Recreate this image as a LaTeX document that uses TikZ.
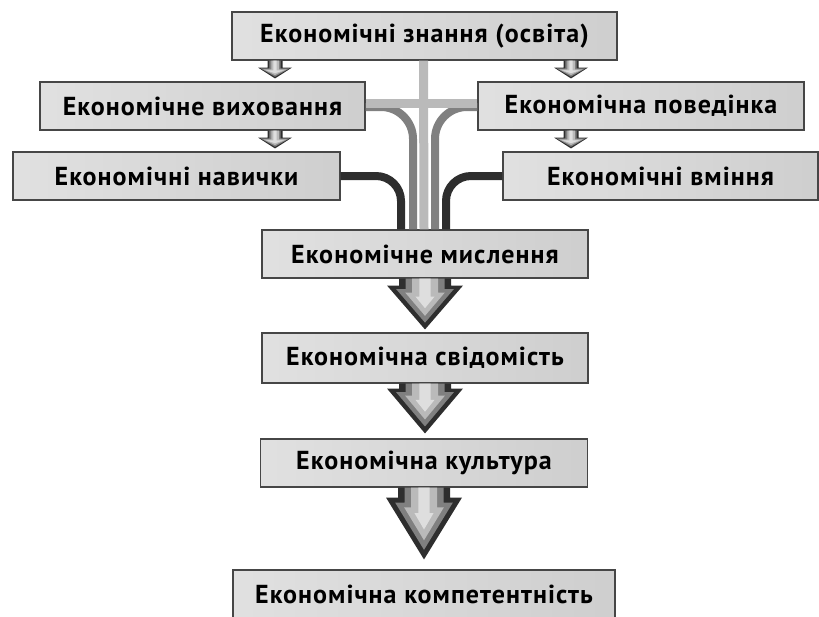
\documentclass[tikz,border=0pt]{standalone}
\usepackage{fontspec}
\setmainfont{PT Sans}[LetterSpace=4]
\usepackage{tikz}
\usetikzlibrary{calc}

\definecolor{darkstripe}{gray}{0.18}
\definecolor{midstripe}{gray}{0.5}
\definecolor{lightstripe}{gray}{0.73}
\definecolor{palestripe}{gray}{0.87}

% striped fat arrow: shaft half width, head half width, shaft length, from, to
\newcommand{\fatarrow}[5]{%
  \foreach \d/\c in {0/darkstripe,0.25/midstripe,0.5/lightstripe,0.78/palestripe}{
    \fill[\c] let \p1=(#4), \p2=(#5) in
      ({\x1-(1-\d)*#1pt},\y1)
      -- ({\x1-(1-\d)*#1pt},{\y1-#3pt-(\y1-#3pt-(\y2))*0.32*\d})
      -- ({\x1-#2pt+1.4*\d*#1pt},{\y1-#3pt-(\y1-#3pt-(\y2))*0.32*\d})
      -- (\x1,{\y2+(\y1-#3pt-(\y2))*0.62*\d})
      -- ({\x1+#2pt-1.4*\d*#1pt},{\y1-#3pt-(\y1-#3pt-(\y2))*0.32*\d})
      -- ({\x1+(1-\d)*#1pt},{\y1-#3pt-(\y1-#3pt-(\y2))*0.32*\d})
      -- ({\x1+(1-\d)*#1pt},\y1) -- cycle;
  }
}

\begin{document}
\begin{tikzpicture}[x=1pt,y=-1pt]
  \tikzset{
    box/.style={draw=gray!55!black,line width=1.1pt,left color=gray!24,middle color=gray!10,right color=gray!38,
      minimum height=48pt,inner sep=0pt,font=\bfseries\fontsize{26}{30}\selectfont},
    lightline/.style={draw=lightstripe,line width=9pt},
    midline/.style={draw=midstripe,line width=8pt,rounded corners=32pt},
    darkline/.style={draw=darkstripe,line width=8pt,rounded corners=25pt}
  }
  \useasboundingbox (0,0) rectangle (819,616);

  \node[box,minimum width=385pt](k1) at (424.5,36) {Економічні знання (освіта)};
  \node[box,minimum width=325pt](k2) at (202.5,106) {Економічне виховання};
  \node[box,minimum width=326pt](k3) at (641,106) {Економічна поведінка};
  \node[box,minimum width=327pt](k4) at (176.5,176) {Економічні навички};
  \node[box,minimum width=315pt](k5) at (660.5,176) {Економічні вміння};
  \node[box,minimum width=326pt](m6) at (425,254) {Економічне мислення};
  \node[box,minimum width=326pt,minimum height=50pt](m7) at (425,358) {Економічна свідомість};
  \node[box,minimum width=327pt](m8) at (424,463) {Економічна культура};
  \node[box,minimum width=382pt](m9) at (424,594) {Економічна компетентність};

  % lines into the thinking box
  \draw[midline] ([yshift=-1pt]k2.east) -| ([xshift=-12pt]m6.north);
  \draw[midline] ([yshift=-1pt]k3.west) -| ([xshift=10pt]m6.north);
  \draw[lightline] ([yshift=3pt]k2.east) -- ([yshift=3pt]k2.east -| k3.west);
  \draw[lightline] ([xshift=-1pt]k1.south) -- ([xshift=-1pt]m6.north);
  \draw[darkline] (k4.east) -| ([xshift=-24pt]m6.north);
  \draw[darkline] (k5.west) -| ([xshift=21pt]m6.north);

  % small arrows
  \coordinate (s1) at ([xshift=-149.5pt]k1.south);
  \coordinate (s2) at ([xshift=146.5pt]k1.south);
  \coordinate (a1) at (s1 |- k2.north);
  \coordinate (a2) at (s1 |- k2.south);
  \coordinate (a3) at (s1 |- k4.north);
  \coordinate (b1) at (s2 |- k3.north);
  \coordinate (b2) at (s2 |- k3.south);
  \coordinate (b3) at (s2 |- k5.north);
  \fatarrow{7.5}{17}{7}{s1}{[yshift=3pt]a1}
  \fatarrow{7.5}{17}{7}{a2}{[yshift=3pt]a3}
  \fatarrow{7.5}{17}{7}{s2}{[yshift=3pt]b1}
  \fatarrow{7.5}{17}{7}{b2}{[yshift=3pt]b3}

  % big arrows
  \fatarrow{26}{38}{7}{m6.south}{[yshift=3pt]m7.north}
  \fatarrow{26}{38}{5}{m7.south}{[yshift=5pt]m8.north}
  \fatarrow{26}{38}{10}{m8.south}{[yshift=10pt]m9.north}
\end{tikzpicture}
\end{document}
